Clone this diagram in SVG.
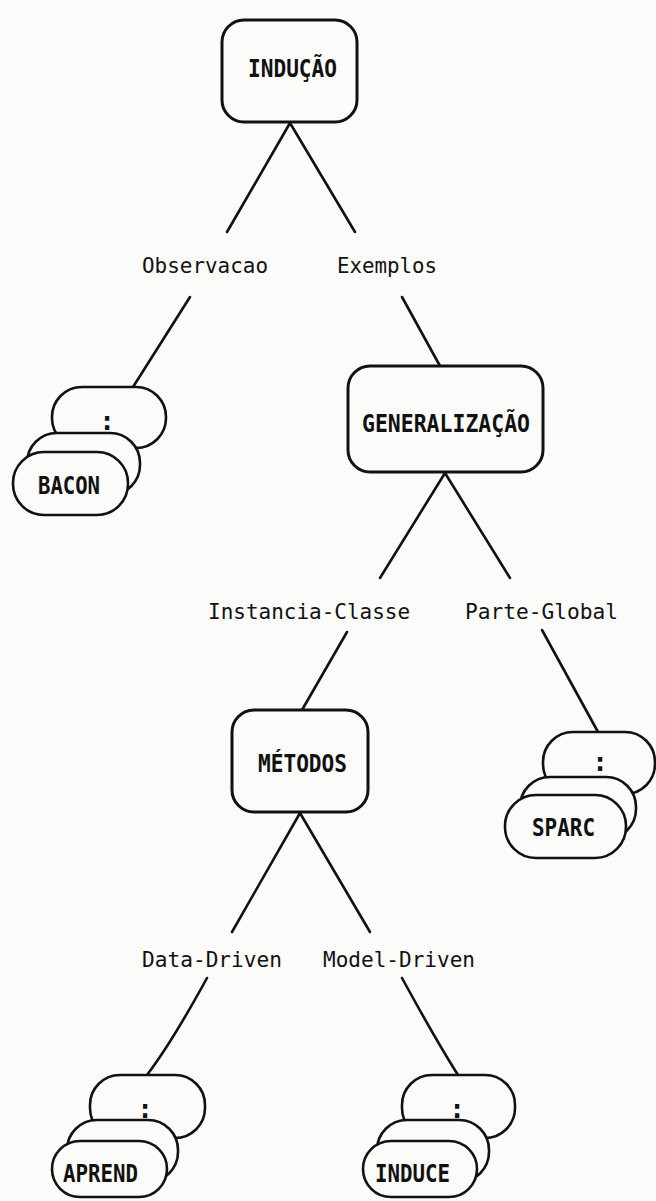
<svg xmlns="http://www.w3.org/2000/svg" width="656" height="1201" viewBox="0 0 656 1201">
<style>
.bg{fill:#fbfbf9}
.box{fill:#fbfbf9;stroke:#111;stroke-width:3}
.ov{fill:#fbfbf9;stroke:#111;stroke-width:2.6}
.ln{fill:none;stroke:#111;stroke-width:2.6;stroke-linecap:round}
.lab{font-family:"DejaVu Sans Mono","Liberation Mono",monospace;font-size:22px;fill:#111}
.nt{font-family:"DejaVu Sans Mono","Liberation Mono",monospace;font-size:25px;font-weight:bold;fill:#111}
.col{font-family:"DejaVu Sans Mono","Liberation Mono",monospace;font-size:26px;font-weight:bold;fill:#111;text-anchor:middle}
</style>
<rect class="bg" x="0" y="0" width="656" height="1201"/>
<g id="connectors">
<line class="ln" x1="290" y1="123" x2="227" y2="232"/>
<line class="ln" x1="290" y1="123" x2="355" y2="232"/>
<line class="ln" x1="190" y1="297" x2="133" y2="387"/>
<line class="ln" x1="402" y1="297" x2="440" y2="366"/>
<line class="ln" x1="445" y1="473" x2="380" y2="578"/>
<line class="ln" x1="445" y1="473" x2="510" y2="578"/>
<line class="ln" x1="347" y1="632" x2="302" y2="710"/>
<line class="ln" x1="542" y1="630" x2="598" y2="732"/>
<line class="ln" x1="300" y1="813" x2="232" y2="932"/>
<line class="ln" x1="300" y1="813" x2="370" y2="932"/>
<path class="ln" d="M207,978 Q172,1042 147,1075"/>
<path class="ln" d="M402,978 Q437,1042 458,1075"/>
</g>
<g id="node-inducao">
<rect class="box" x="222" y="20" width="135" height="102" rx="22"/>
<text class="nt" x="248" y="77" textLength="89" lengthAdjust="spacingAndGlyphs">INDUÇÃO</text>
</g>
<g id="label-observacao"><text class="lab" x="142" y="273" textLength="126" lengthAdjust="spacingAndGlyphs">Observacao</text></g>
<g id="label-exemplos"><text class="lab" x="337" y="273" textLength="100" lengthAdjust="spacingAndGlyphs">Exemplos</text></g>
<g id="node-bacon">
<rect class="ov" x="52" y="387" width="114" height="61" rx="30"/>
<text class="col" x="107" y="430">:</text>
<rect class="ov" x="27" y="433" width="113" height="62" rx="30"/>
<rect class="ov" x="13" y="452" width="115" height="63" rx="31"/>
<text class="nt" x="38" y="494" textLength="62" lengthAdjust="spacingAndGlyphs">BACON</text>
</g>
<g id="node-generalizacao">
<rect class="box" x="348" y="366" width="195" height="106" rx="22"/>
<text class="nt" x="362" y="432" textLength="168" lengthAdjust="spacingAndGlyphs">GENERALIZAÇÃO</text>
</g>
<g id="label-instancia"><text class="lab" x="208" y="619" textLength="202" lengthAdjust="spacingAndGlyphs">Instancia-Classe</text></g>
<g id="label-parte"><text class="lab" x="465" y="619" textLength="153" lengthAdjust="spacingAndGlyphs">Parte-Global</text></g>
<g id="node-metodos">
<rect class="box" x="232" y="710" width="136" height="102" rx="22"/>
<text class="nt" x="258" y="772" textLength="89" lengthAdjust="spacingAndGlyphs">MÉTODOS</text>
</g>
<g id="node-sparc">
<rect class="ov" x="543" y="732" width="112" height="62" rx="30"/>
<text class="col" x="600" y="771">:</text>
<rect class="ov" x="520" y="777" width="116" height="62" rx="30"/>
<rect class="ov" x="505" y="795" width="121" height="63" rx="31"/>
<text class="nt" x="532" y="836" textLength="63" lengthAdjust="spacingAndGlyphs">SPARC</text>
</g>
<g id="label-data"><text class="lab" x="142" y="967" textLength="140" lengthAdjust="spacingAndGlyphs">Data-Driven</text></g>
<g id="label-model"><text class="lab" x="323" y="967" textLength="152" lengthAdjust="spacingAndGlyphs">Model-Driven</text></g>
<g id="node-aprend">
<rect class="ov" x="90" y="1075" width="115" height="63" rx="30"/>
<text class="col" x="145" y="1118">:</text>
<rect class="ov" x="67" y="1120" width="111" height="62" rx="30"/>
<rect class="ov" x="52" y="1141" width="115" height="56" rx="28"/>
<text class="nt" x="63" y="1182" textLength="75" lengthAdjust="spacingAndGlyphs">APREND</text>
</g>
<g id="node-induce">
<rect class="ov" x="402" y="1075" width="113" height="63" rx="30"/>
<text class="col" x="457" y="1118">:</text>
<rect class="ov" x="377" y="1120" width="112" height="62" rx="30"/>
<rect class="ov" x="363" y="1141" width="114" height="56" rx="28"/>
<text class="nt" x="375" y="1182" textLength="75" lengthAdjust="spacingAndGlyphs">INDUCE</text>
</g>
</svg>
